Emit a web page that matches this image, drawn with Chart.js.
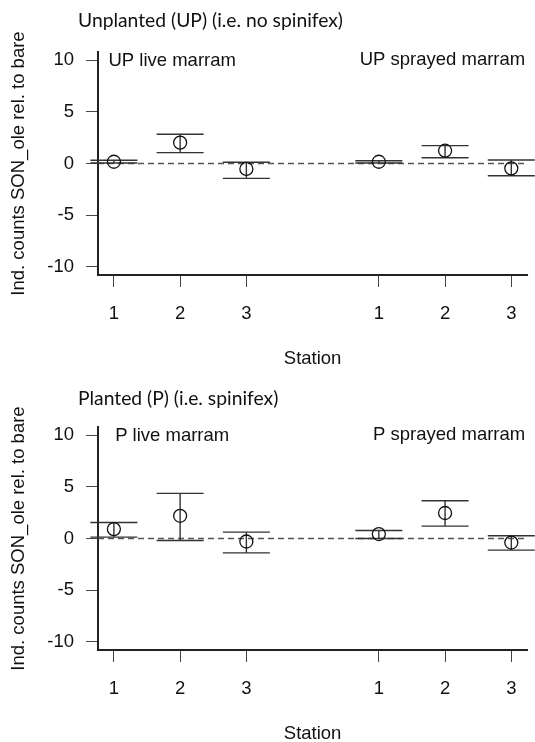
<!DOCTYPE html>
<html>
<head>
<meta charset="utf-8">
<script src="https://cdn.jsdelivr.net/npm/chart.js@4.4.1/dist/chart.umd.min.js"></script>
<style>
  html, body { margin: 0; padding: 0; background: #fff; overflow: hidden; }
  .panel { position: absolute; left: 0; width: 535px; height: 375px; }
</style>
</head>
<body>
<div class="panel" style="top:0"><canvas id="chartUP"></canvas></div>
<div class="panel" style="top:375px"><canvas id="chartP"></canvas></div>
<script>
// stations on the x axis (live group 1-3, sprayed group 5-7)
const stationPos = [1, 2, 3, 5, 6, 7];
const stationLabels = ['1', '2', '3', '1', '2', '3'];

// Unplanted (UP): mean and error bar ends
const upMean  = [0.17, 2.02, -0.53, 0.17, 1.24, -0.47];
const upUpper = [0.32, 2.83, 0.12, 0.27, 1.73, 0.34];
const upLower = [0.05, 1.05, -1.44, 0.05, 0.56, -1.18];

// Planted (P)
const pMean  = [0.91, 2.20, -0.29, 0.43, 2.47, -0.39];
const pUpper = [1.55, 4.37, 0.62, 0.78, 3.66, 0.26];
const pLower = [0.13, -0.19, -1.39, 0.00, 1.20, -1.13];

const AXIS_FONT = { family: '"Liberation Sans", Arial, sans-serif', size: 18.5 };

// error bars, zero line and panel texts
const errorBars = {
  id: 'errorBars',
  beforeDatasetsDraw(chart, args, opts) {
    const { ctx, chartArea, scales: { x, y } } = chart;
    ctx.save();
    const y0 = y.getPixelForValue(0);
    ctx.strokeStyle = '#555';
    ctx.lineWidth = 1.3;
    ctx.setLineDash([6, 4]);
    ctx.beginPath();
    ctx.moveTo(chartArea.left, y0);
    ctx.lineTo(chartArea.right, y0);
    ctx.stroke();
    ctx.setLineDash([]);
    ctx.strokeStyle = '#333';
    ctx.lineWidth = 1.4;
    opts.upper.forEach((u, i) => {
      const px = x.getPixelForValue(stationPos[i]);
      const half = x.getPixelForValue(stationPos[i] + 0.355) - px;
      const pu = y.getPixelForValue(u);
      const pl = y.getPixelForValue(opts.lower[i]);
      ctx.beginPath();
      ctx.moveTo(px, pu); ctx.lineTo(px, pl);
      ctx.moveTo(px - half, pu); ctx.lineTo(px + half, pu);
      ctx.moveTo(px - half, pl); ctx.lineTo(px + half, pl);
      ctx.stroke();
    });
    ctx.restore();
  },
  afterDraw(chart, args, opts) {
    const { ctx, chartArea, scales: { x } } = chart;
    ctx.save();
    ctx.fillStyle = '#111';
    ctx.textBaseline = 'middle';
    ctx.font = '19.3px Lato, "Open Sans", sans-serif';
    ctx.textAlign = 'left';
    ctx.fillText(opts.title, 78, opts.titleY);
    ctx.font = '18.5px "Liberation Sans", Arial, sans-serif';
    ctx.textAlign = 'center';
    ctx.fillText(opts.leftLabel, x.getPixelForValue(1.88), chartArea.top + 9);
    ctx.textAlign = 'right';
    ctx.fillText(opts.rightLabel, chartArea.right - 2, chartArea.top + 8);
    ctx.restore();
  }
};

function makePanel(canvasId, mean, upper, lower, title, titleY, leftLabel, rightLabel) {
  const ctx = document.getElementById(canvasId).getContext('2d');
  return new Chart(ctx, {
    type: 'scatter',
    data: {
      datasets: [{
        data: stationPos.map((s, i) => ({ x: s, y: mean[i] })),
        pointStyle: 'circle',
        pointRadius: 6.5,
        pointHoverRadius: 6.5,
        pointBorderWidth: 1.3,
        pointBorderColor: '#111',
        pointBackgroundColor: 'rgba(0,0,0,0)'
      }]
    },
    options: {
      responsive: true,
      maintainAspectRatio: false,
      animation: false,
      events: [],
      layout: { padding: { left: 0, top: 52, right: 6, bottom: 0 } },
      scales: {
        x: {
          type: 'linear',
          min: 0.76,
          max: 7.24,
          afterBuildTicks: (s) => { s.ticks = stationPos.map(v => ({ value: v })); },
          afterFit: (s) => { s.height = 100; },
          ticks: {
            autoSkip: false,
            maxRotation: 0,
            padding: 16,
            color: '#111',
            font: AXIS_FONT,
            callback: (v, i) => stationLabels[i]
          },
          grid: { drawOnChartArea: false, drawTicks: true, tickLength: 12, color: '#444', lineWidth: 1 },
          border: { display: true, color: '#222', width: 2 },
          title: { display: true, text: 'Station', color: '#111', font: AXIS_FONT, padding: { top: 0, bottom: 5 } }
        },
        y: {
          min: -10.8,
          max: 10.8,
          afterFit: (s) => { s.width = 98; },
          ticks: { stepSize: 5, includeBounds: false, padding: 12, color: '#111', font: AXIS_FONT },
          grid: { drawOnChartArea: false, drawTicks: true, tickLength: 12, color: '#444', lineWidth: 1 },
          border: { display: true, color: '#222', width: 2 },
          title: {
            display: true,
            text: 'Ind. counts SON_ole rel. to bare',
            color: '#111',
            font: AXIS_FONT,
            padding: { top: 8, bottom: 0 }
          }
        }
      },
      plugins: {
        legend: { display: false },
        tooltip: { enabled: false },
        errorBars: { upper: upper, lower: lower, title: title, titleY: titleY, leftLabel: leftLabel, rightLabel: rightLabel }
      }
    },
    plugins: [errorBars]
  });
}

makePanel('chartUP', upMean, upUpper, upLower,
  'Unplanted (UP) (i.e. no spinifex)', 21, 'UP live marram', 'UP sprayed marram');
makePanel('chartP', pMean, pUpper, pLower,
  'Planted (P) (i.e. spinifex)', 24, 'P live marram', 'P sprayed marram');
</script>
</body>
</html>
